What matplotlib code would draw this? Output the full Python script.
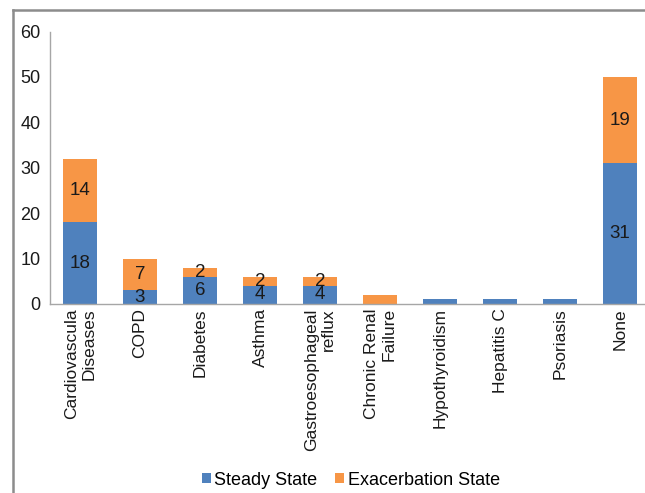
import numpy as np
import matplotlib.pyplot as plt
from matplotlib.lines import Line2D

plt.rcParams['font.family'] = ['Liberation Sans', 'DejaVu Sans']

categories = ["Cardiovascula\nDiseases", "COPD", "Diabetes", "Asthma",
              "Gastroesophageal\nreflux", "Chronic Renal\nFailure",
              "Hypothyroidism", "Hepatitis C", "Psoriasis", "None"]
steady = [18, 3, 6, 4, 4, 0, 1, 1, 1, 31]
exacerbation = [14, 7, 2, 2, 2, 2, 0, 0, 0, 19]
show_label = [True, True, True, True, True, False, False, False, False, True]
yticks = [0, 10, 20, 30, 40, 50, 60]

blue = "#4F81BD"
orange = "#F79646"

fig = plt.figure(figsize=(6.45, 4.93), dpi=100)
ax = fig.add_axes([50 / 645, 1 - 304 / 493, 595 / 645, 272.5 / 493])

x = np.arange(len(categories))
b1 = ax.bar(x, steady, width=0.58, color=blue, label="Steady State")
b2 = ax.bar(x, exacerbation, width=0.58, bottom=steady, color=orange,
            label="Exacerbation State")

# value labels in the middle of each segment
for i in range(len(categories)):
    if not show_label[i]:
        continue
    ax.text(x[i], steady[i] / 2, str(steady[i]), ha="center", va="center",
            fontsize=13.5, color="#1a1a1a")
    ax.text(x[i], steady[i] + exacerbation[i] / 2, str(exacerbation[i]),
            ha="center", va="center", fontsize=13.5, color="#1a1a1a")

ax.set_ylim(0, 60)
ax.set_xlim(-0.5, 595 / 60 - 0.5)
ax.set_yticks(yticks)
ax.set_xticks(x)
ax.set_xticklabels(categories, rotation=90, ha="center", va="top",
                   multialignment="right", fontsize=12.5)
ax.tick_params(axis="both", length=0, colors="#1a1a1a")
ax.tick_params(axis="y", labelsize=13, pad=7)
ax.tick_params(axis="x", pad=3)
for s in ["top", "right"]:
    ax.spines[s].set_visible(False)
for s in ["left", "bottom"]:
    ax.spines[s].set_color("#a6a6a6")
    ax.spines[s].set_linewidth(1.0)

fig.legend(handles=[b1, b2], loc="center", bbox_to_anchor=(0.544, 0.026),
           ncol=2, frameon=False, fontsize=13, handlelength=0.5,
           handleheight=0.5, handletextpad=0.2, columnspacing=1.0)

# outer frame lines on the left and top
fig.add_artist(Line2D([13 / 645, 13 / 645], [0, 1 - 10 / 493],
                      color="#8c8c8c", lw=1.8, transform=fig.transFigure))
fig.add_artist(Line2D([13 / 645, 1], [1 - 10 / 493, 1 - 10 / 493],
                      color="#8c8c8c", lw=1.8, transform=fig.transFigure))

fig.savefig("out.png", dpi=100)
